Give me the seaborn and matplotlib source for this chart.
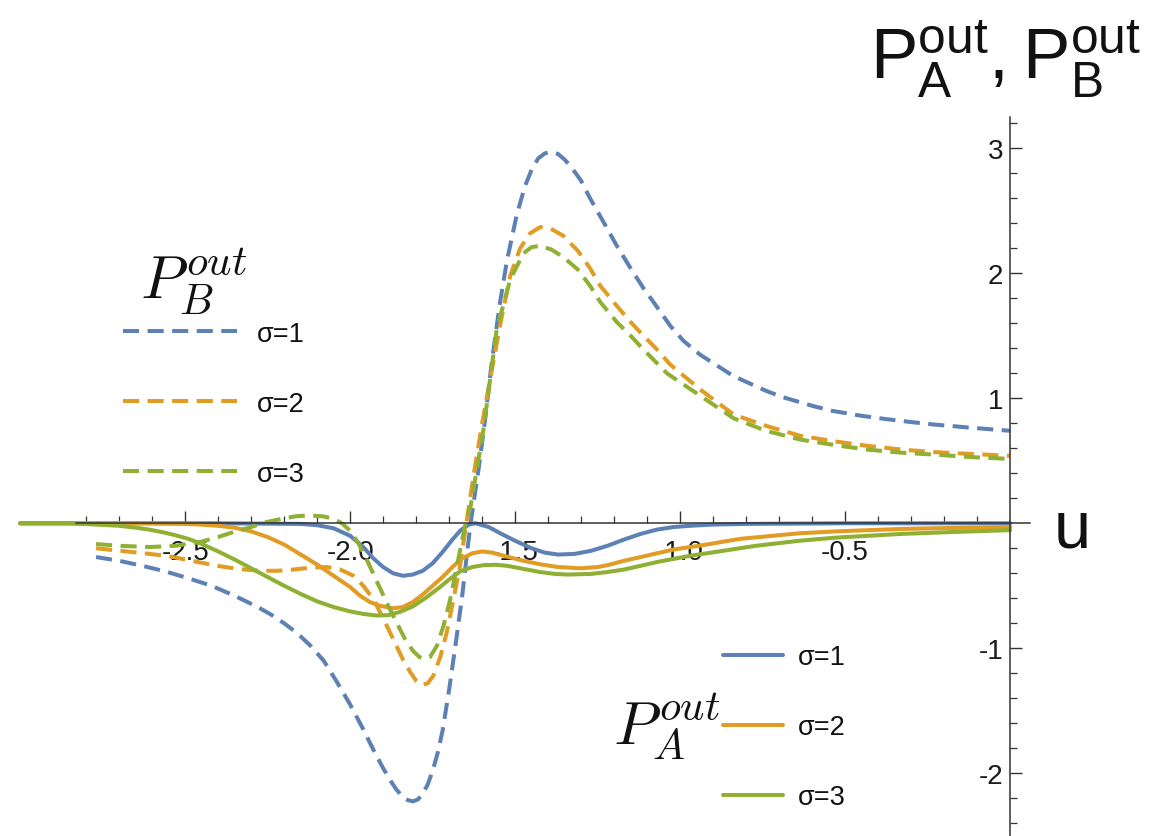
import numpy as np
import pandas as pd
import matplotlib
matplotlib.use("Agg")
import matplotlib.pyplot as plt
import seaborn as sns
from matplotlib.lines import Line2D

# -----------------------------------
# data (u, P)
# -----------------------------------
sigmas = ["σ=1", "σ=2", "σ=3"]
colors = ["#5E81B5", "#E19C24", "#8FB032"]

# P_A^out (solid)
u_a1 = [-3.00, -2.40, -2.15, -2.10, -2.05, -2.00, -1.96, -1.93, -1.90, -1.87, -1.84,
        -1.81, -1.78, -1.75, -1.72, -1.69, -1.665, -1.64, -1.62, -1.58, -1.545, -1.50,
        -1.45, -1.41, -1.37, -1.32, -1.27, -1.22, -1.17, -1.12, -1.07, -1.02, -0.97,
        -0.90, -0.80, -0.50, 0.00]
pa1 = [0.0, 0.0, -0.005, -0.015, -0.04, -0.10, -0.19, -0.28, -0.35, -0.40, -0.42,
       -0.41, -0.38, -0.32, -0.23, -0.13, -0.055, -0.01, 0.0, -0.03, -0.08, -0.14,
       -0.20, -0.235, -0.25, -0.245, -0.22, -0.18, -0.13, -0.085, -0.05, -0.03, -0.02,
       -0.01, -0.005, 0.0, 0.0]

u_a2 = [-3.00, -2.60, -2.50, -2.455, -2.40, -2.35, -2.30, -2.25, -2.20, -2.15, -2.10,
        -2.05, -2.00, -1.97, -1.94, -1.91, -1.87, -1.84, -1.81, -1.78, -1.75, -1.72,
        -1.69, -1.66, -1.63, -1.60, -1.57, -1.52, -1.475, -1.42, -1.37, -1.30, -1.25,
        -1.22, -1.17, -1.12, -1.07, -1.02, -0.92, -0.82, -0.72, -0.64, -0.53, -0.43,
        -0.33, -0.23, -0.12, 0.00]
pa2 = [0.0, 0.0, -0.005, -0.01, -0.02, -0.035, -0.065, -0.11, -0.17, -0.25, -0.33,
       -0.42, -0.51, -0.58, -0.63, -0.66, -0.68, -0.67, -0.63, -0.57, -0.50, -0.43,
       -0.35, -0.28, -0.24, -0.225, -0.235, -0.27, -0.30, -0.33, -0.35, -0.36, -0.35,
       -0.335, -0.30, -0.27, -0.24, -0.21, -0.17, -0.125, -0.10, -0.08, -0.065, -0.055,
       -0.045, -0.04, -0.035, -0.03]

u_a3 = [-3.00, -2.85, -2.77, -2.70, -2.65, -2.61, -2.57, -2.53, -2.49, -2.45, -2.40,
        -2.35, -2.30, -2.25, -2.20, -2.15, -2.10, -2.05, -2.00, -1.96, -1.92, -1.885,
        -1.85, -1.81, -1.77, -1.73, -1.70, -1.667, -1.63, -1.596, -1.56, -1.525,
        -1.475, -1.424, -1.38, -1.34, -1.27, -1.22, -1.17, -1.12, -1.07, -0.97, -0.87,
        -0.77, -0.64, -0.53, -0.43, -0.33, -0.23, -0.12, 0.00]
pa3 = [0.0, 0.0, -0.01, -0.02, -0.035, -0.05, -0.07, -0.095, -0.125, -0.165, -0.225,
       -0.29, -0.36, -0.43, -0.50, -0.565, -0.625, -0.67, -0.705, -0.725, -0.738, -0.735,
       -0.71, -0.665, -0.595, -0.515, -0.45, -0.385, -0.35, -0.335, -0.332, -0.34,
       -0.365, -0.39, -0.405, -0.41, -0.405, -0.39, -0.37, -0.34, -0.31, -0.26, -0.22,
       -0.18, -0.14, -0.115, -0.10, -0.085, -0.075, -0.065, -0.055]

# P_B^out (dashed)
u_b1 = [-2.77, -2.70, -2.63, -2.56, -2.49, -2.42, -2.35, -2.28, -2.24, -2.20, -2.16,
        -2.12, -2.08, -2.04, -2.00, -1.96, -1.93, -1.90, -1.875, -1.86, -1.84, -1.825,
        -1.81, -1.795, -1.78, -1.765, -1.75, -1.735, -1.72, -1.70, -1.68, -1.66, -1.645,
        -1.635, -1.61, -1.59, -1.575, -1.56, -1.545, -1.525, -1.495, -1.47, -1.45,
        -1.43, -1.41, -1.39, -1.37, -1.35, -1.33, -1.30, -1.273, -1.23, -1.192, -1.15,
        -1.111, -1.07, -1.03, -0.99, -0.94, -0.84, -0.74, -0.69, -0.60, -0.54, -0.45,
        -0.38, -0.30, -0.23, -0.12, 0.00]
pb1 = [-0.27, -0.30, -0.34, -0.385, -0.44, -0.50, -0.58, -0.67, -0.73, -0.80, -0.88,
       -0.98, -1.10, -1.27, -1.45, -1.65, -1.81, -1.96, -2.07, -2.13, -2.19, -2.215,
       -2.225, -2.21, -2.165, -2.09, -1.98, -1.84, -1.66, -1.33, -0.96, -0.57, -0.22,
       0.0, 0.45, 0.85, 1.20, 1.50, 1.78, 2.10, 2.47, 2.70, 2.83,
       2.92, 2.96, 2.97, 2.955, 2.91, 2.85, 2.74, 2.60, 2.40, 2.22, 2.04,
       1.88, 1.73, 1.58, 1.46, 1.35, 1.18, 1.06, 1.01, 0.94, 0.90, 0.86,
       0.835, 0.81, 0.79, 0.765, 0.74]

u_b2 = [-2.77, -2.66, -2.556, -2.48, -2.404, -2.34, -2.273, -2.22, -2.172, -2.12, -2.071,
        -2.03, -1.99, -1.96, -1.929, -1.90, -1.869, -1.84, -1.818, -1.80, -1.783, -1.765,
        -1.748, -1.727, -1.707, -1.687, -1.667, -1.648, -1.625, -1.60, -1.576, -1.555,
        -1.54, -1.515, -1.485, -1.455, -1.424, -1.394, -1.354, -1.31, -1.273, -1.242,
        -1.192, -1.15, -1.111, -1.07, -1.03, -0.939, -0.838, -0.74, -0.636, -0.53,
        -0.434, -0.33, -0.232, -0.12, 0.00]
pb2 = [-0.20, -0.23, -0.26, -0.30, -0.34, -0.365, -0.38, -0.38, -0.37, -0.355, -0.35,
       -0.37, -0.42, -0.50, -0.61, -0.76, -0.93, -1.09, -1.19, -1.26, -1.295, -1.28,
       -1.22, -1.07, -0.87, -0.61, -0.34, 0.0, 0.40, 0.80, 1.15, 1.45,
       1.66, 1.98, 2.20, 2.32, 2.37, 2.36, 2.30, 2.18, 2.04, 1.90,
       1.74, 1.61, 1.50, 1.39, 1.27, 1.07, 0.87, 0.78, 0.70, 0.655,
       0.62, 0.59, 0.57, 0.555, 0.54]

u_b3 = [-2.77, -2.70, -2.606, -2.53, -2.455, -2.40, -2.354, -2.30, -2.253, -2.20, -2.165,
        -2.125, -2.08, -2.05, -2.025, -2.00, -1.975, -1.95, -1.92, -1.89, -1.86, -1.835,
        -1.81, -1.79, -1.775, -1.758, -1.737, -1.717, -1.697, -1.68, -1.662, -1.65,
        -1.636, -1.596, -1.556, -1.515, -1.475, -1.45, -1.424, -1.39, -1.354, -1.31,
        -1.273, -1.242, -1.192, -1.15, -1.111, -1.04, -0.939, -0.838, -0.74, -0.636,
        -0.53, -0.434, -0.33, -0.232, -0.12, 0.00]
pb3 = [-0.166, -0.18, -0.19, -0.18, -0.15, -0.11, -0.07, -0.03, 0.01, 0.04, 0.056,
       0.063, 0.055, 0.035, 0.0, -0.06, -0.16, -0.29, -0.46, -0.63, -0.79, -0.92,
       -1.02, -1.07, -1.085, -1.07, -0.98, -0.82, -0.61, -0.39, -0.15, 0.0,
       0.12, 0.75, 1.55, 1.95, 2.16, 2.21, 2.22, 2.19, 2.13, 2.03,
       1.90, 1.77, 1.61, 1.50, 1.39, 1.20, 1.02, 0.84, 0.74, 0.67,
       0.625, 0.59, 0.565, 0.55, 0.53, 0.515]

# -----------------------------------
# long table for seaborn
# -----------------------------------
frames = []
for s, (u, p) in zip(sigmas, [(u_a1, pa1), (u_a2, pa2), (u_a3, pa3)]):
    frames.append(pd.DataFrame({"u": u, "P": p, "sigma": s, "kind": "A"}))
for s, (u, p) in zip(sigmas, [(u_b1, pb1), (u_b2, pb2), (u_b3, pb3)]):
    frames.append(pd.DataFrame({"u": u, "P": p, "sigma": s, "kind": "B"}))
df = pd.concat(frames, ignore_index=True)

# -----------------------------------
# figure
# -----------------------------------
sns.set_style("white")
plt.rcParams["font.family"] = ["Liberation Sans", "DejaVu Sans"]

W, H = 1161, 837
fig = plt.figure(figsize=(W / 100, H / 100), dpi=100)
ax = fig.add_axes([0, 0, 1, 1])

LW = 2.9
DASH = (4.0, 2.1)
sns.lineplot(data=df, x="u", y="P", hue="sigma", style="kind",
             hue_order=sigmas, style_order=["A", "B"],
             palette=colors, dashes={"A": "", "B": DASH},
             estimator=None, lw=LW, legend=False, ax=ax)

ax.set_xlim(-3.061, 0.457)
ax.set_ylim(-2.502, 4.195)
ax.set_xlabel("")
ax.set_ylabel("")
ax.patch.set_alpha(0)

# axes crossing at the origin, Mathematica style
axis_col = "#333333"
for side in ["top", "right"]:
    ax.spines[side].set_visible(False)
ax.spines["left"].set_position(("data", 0))
ax.spines["bottom"].set_position(("data", 0))
ax.spines["left"].set_bounds(-2.6, 3.25)
ax.spines["bottom"].set_bounds(-2.83, 0.06)
for side in ["left", "bottom"]:
    ax.spines[side].set_color(axis_col)
    ax.spines[side].set_linewidth(1.1)

xmaj = [-2.5, -2.0, -1.5, -1.0, -0.5]
ax.set_xticks(xmaj, labels=["-2.5", "-2.0", "-1.5", "-1.0", "-0.5"])
xmin = [round(v, 1) for v in np.arange(-2.8, -0.05, 0.1) if round(v, 1) not in xmaj]
ax.set_xticks(xmin, minor=True)

ymaj = [-2, -1, 1, 2, 3]
ax.set_yticks(ymaj, labels=["-2", "-1", "1", "2", "3"])
ymin = [round(v, 1) for v in np.arange(-2.4, 3.25, 0.2)
        if abs(round(v, 1) - round(v)) > 0.01]
ax.set_yticks(ymin, minor=True)

ax.tick_params(axis="both", which="both", bottom=True, left=True, top=False,
               right=False, direction="in", color=axis_col)
ax.tick_params(axis="both", which="major", length=8.5, width=1.0,
               labelsize=20, labelcolor="#1a1a1a")
ax.tick_params(axis="both", which="minor", length=5, width=0.9)
ax.tick_params(axis="x", which="major", pad=11)
ax.tick_params(axis="y", which="major", pad=5)


def fpos(x, y):
    return x / W, 1 - y / H


# axis labels
fig.text(*fpos(1072, 547), "u", fontsize=48, ha="center", va="baseline",
         color="#111111")
fig.text(*fpos(870, 80), r"$\mathregular{P_A^{out},P_B^{out}}$", fontsize=51,
         ha="left", va="baseline", color="#111111")

# hand-placed legends
fig.text(*fpos(140, 300), r"$P_B^{out}$", fontsize=44, math_fontfamily="cm",
         ha="left", va="baseline", color="#111111")
for i, (s, c) in enumerate(zip(sigmas, colors)):
    y = 332 + 70 * i
    fig.add_artist(Line2D([123 / W, 237 / W], [1 - y / H, 1 - y / H], color=c,
                          lw=LW, dashes=DASH))
    fig.text(*fpos(257, y + 3), s, fontsize=19.5, ha="left", va="center",
             color="#111111")

fig.text(*fpos(613, 745), r"$P_A^{out}$", fontsize=44, math_fontfamily="cm",
         ha="left", va="baseline", color="#111111")
for i, (s, c) in enumerate(zip(sigmas, colors)):
    y = 656 + 70 * i
    fig.add_artist(Line2D([723 / W, 783 / W], [1 - y / H, 1 - y / H], color=c,
                          lw=LW))
    fig.text(*fpos(798, y + 2), s, fontsize=19.5, ha="left", va="center",
             color="#111111")

fig.savefig("out.png", dpi=100)
